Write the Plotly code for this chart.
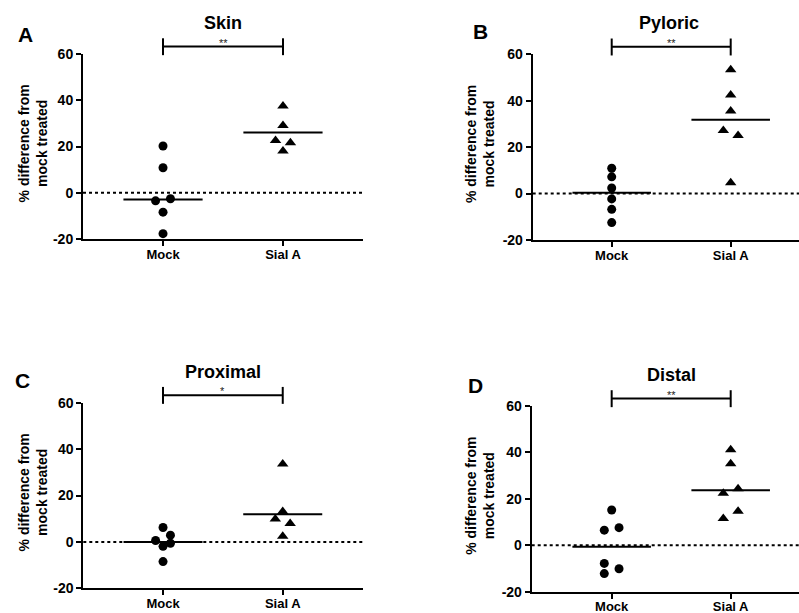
import plotly.graph_objects as go

# ---------------- data ----------------
categories = ["Mock", "Sial A"]
panel_letters = ["A", "B", "C", "D"]
panel_titles = ["Skin", "Pyloric", "Proximal", "Distal"]
significance = ["**", "**", "*", "**"]
y_ticks = [-20, 0, 20, 40, 60]
y_tick_labels = ["-20", "0", "20", "40", "60"]

skin_mock = [20.2, 10.8, -3.5, -2.6, -8.4, -17.7]
skin_sial = [37.5, 29.1, 22.6, 21.6, 18.0]
skin_lines = [-2.9, 26.1]

pyloric_mock = [10.9, 7.2, 2.4, -2.3, -6.8, -12.5]
pyloric_sial = [53.3, 42.5, 35.6, 27.2, 25.0, 4.7]
pyloric_lines = [0.4, 31.8]

proximal_mock = [6.2, 2.9, 0.6, -0.6, -1.9, -8.5]
proximal_sial = [33.6, 13.1, 9.9, 7.9, 2.4]
proximal_lines = [0.0, 11.9]

distal_mock = [15.2, 6.5, 7.6, -7.8, -10.1, -12.2]
distal_sial = [41.1, 35.1, 24.3, 22.4, 14.7, 11.5]
distal_lines = [-0.6, 23.7]

# scatter-plot jitter side (-1 left, 0 centre, 1 right)
skin_side = ([0, 0, -1, 1, 0, 0], [0, 0, -1, 1, 0])
pyloric_side = ([0, 0, 0, 0, 0, 0], [0, 0, 0, -1, 1, 0])
proximal_side = ([0, 1, -1, 1, 0, 0], [0, 0, -1, 1, 0])
distal_side = ([0, -1, 1, -1, 1, -1], [0, 0, 1, -1, 1, -1])

panels = [
    (skin_mock, skin_sial, skin_lines, skin_side),
    (pyloric_mock, pyloric_sial, pyloric_lines, pyloric_side),
    (proximal_mock, proximal_sial, proximal_lines, proximal_side),
    (distal_mock, distal_sial, distal_lines, distal_side),
]

# ---------------- layout geometry (pixels) ----------------
W, H = 799, 613
FONT = "Liberation Sans, Arial, sans-serif"
# (x_axis_left, x_axis_right, y_top(60), y_bottom(-20), x_range)
geo = [
    (83.0, 363.0, 54.0, 239.0, (-0.667, 1.667)),
    (532.7, 799.0, 54.3, 240.0, (-0.664, 1.574)),
    (83.3, 362.7, 402.7, 588.3, (-0.666, 1.668)),
    (531.7, 799.0, 406.0, 591.7, (-0.672, 1.574)),
]
letter_pos = [(25, 34), (480, 32), (22, 380), (475, 385)]
title_pos = [(223, 23), (668.7, 23), (222.7, 371.7), (671.7, 375)]
ytitle_x = [33, 480, 33, 480]

YMIN, YMAX = -20, 60
JIT = 0.062
HALF = 0.33

fig = go.Figure()
shapes = []
annotations = []
ytickfont = dict(family=FONT, size=14, color="black", weight="bold")
xtickfont = dict(family=FONT, size=13, color="black", weight="bold")

for i, (mock, sial, lines, sides) in enumerate(panels):
    n = "" if i == 0 else str(i + 1)
    xa, ya = "x" + n, "y" + n
    xl, xr, yt, yb, xrange = geo[i]
    for g, (vals, side, sym) in enumerate([(mock, sides[0], "circle"),
                                           (sial, sides[1], "triangle-up")]):
        fig.add_trace(go.Scatter(
            x=[g + s * JIT for s in side], y=vals, mode="markers",
            marker=dict(symbol=sym, size=9 if sym == "circle" else 10, color="black"),
            xaxis=xa, yaxis=ya, showlegend=False, cliponaxis=False))
        fig.add_trace(go.Scatter(
            x=[g - HALF, g + HALF], y=[lines[g], lines[g]], mode="lines",
            line=dict(color="black", width=2),
            xaxis=xa, yaxis=ya, showlegend=False))
    dom_x = [xl / W, min(xr / W, 1.0)]
    dom_y = [1 - yb / H, 1 - yt / H]
    fig.update_layout(**{
        "xaxis" + n: dict(domain=dom_x, range=list(xrange), tickvals=[0, 1],
                          ticktext=categories, showline=True, linecolor="black",
                          linewidth=2, ticks="outside", ticklen=5, tickwidth=2,
                          tickcolor="black", showgrid=False, zeroline=False,
                          tickfont=xtickfont, anchor=ya, automargin=False,
                          ticklabelstandoff=-3),
        "yaxis" + n: dict(domain=dom_y, range=[YMIN, YMAX], tickvals=y_ticks,
                          ticktext=y_tick_labels,
                          showline=True, linecolor="black", linewidth=2,
                          ticks="outside", ticklen=5, tickwidth=2, tickcolor="black",
                          showgrid=False, zeroline=False,
                          tickfont=ytickfont, anchor=xa, automargin=False),
    })
    shapes.append(dict(type="line", xref=xa + " domain", yref=ya, x0=0, x1=1, y0=0, y1=0,
                       line=dict(color="black", width=2, dash="dot"), layer="below"))

    def fx(v):
        return (v - xrange[0]) / (xrange[1] - xrange[0])

    def fy(v):
        return (v - YMIN) / (YMAX - YMIN)

    yb_line, y_lo, y_hi = 63.2, 59.5, 66.8
    shapes.append(dict(type="line", xref=xa + " domain", yref=ya + " domain",
                       x0=fx(0), x1=fx(1), y0=fy(yb_line), y1=fy(yb_line),
                       line=dict(color="black", width=2)))
    for g in (0, 1):
        shapes.append(dict(type="line", xref=xa + " domain", yref=ya + " domain",
                           x0=fx(g), x1=fx(g), y0=fy(y_lo), y1=fy(y_hi),
                           line=dict(color="black", width=2)))
    annotations.append(dict(text=significance[i], xref=xa + " domain", yref=ya + " domain",
                            x=fx(0.5), y=fy(yb_line), xanchor="center", yanchor="bottom",
                            yshift=-4, showarrow=False,
                            font=dict(family=FONT, size=11, color="#222")))
    lx, ly = letter_pos[i]
    annotations.append(dict(text="<b>%s</b>" % panel_letters[i], xref="paper", yref="paper",
                            x=lx / W, y=1 - ly / H, xanchor="center", yanchor="middle",
                            showarrow=False, font=dict(family=FONT, size=21, color="black")))
    tx, ty = title_pos[i]
    annotations.append(dict(text="<b>%s</b>" % panel_titles[i], xref="paper", yref="paper",
                            x=tx / W, y=1 - ty / H, xanchor="center", yanchor="middle",
                            showarrow=False, font=dict(family=FONT, size=18, color="black")))
    annotations.append(dict(text="<b>% difference from<br>mock treated</b>", xref="paper",
                            yref="paper", x=ytitle_x[i] / W, y=(dom_y[0] + dom_y[1]) / 2 + 0.005,
                            xanchor="center", yanchor="middle", textangle=-90,
                            showarrow=False,
                            font=dict(family=FONT, size=14, color="black")))

fig.update_layout(width=W, height=H, margin=dict(l=0, r=0, t=0, b=0, autoexpand=False),
                  paper_bgcolor="white", plot_bgcolor="white",
                  shapes=shapes, annotations=annotations,
                  font=dict(family=FONT, color="black"))
fig.write_html("out.html", config={"displayModeBar": False},
               post_script="document.body.style.margin='0';document.body.style.overflow='hidden';")
